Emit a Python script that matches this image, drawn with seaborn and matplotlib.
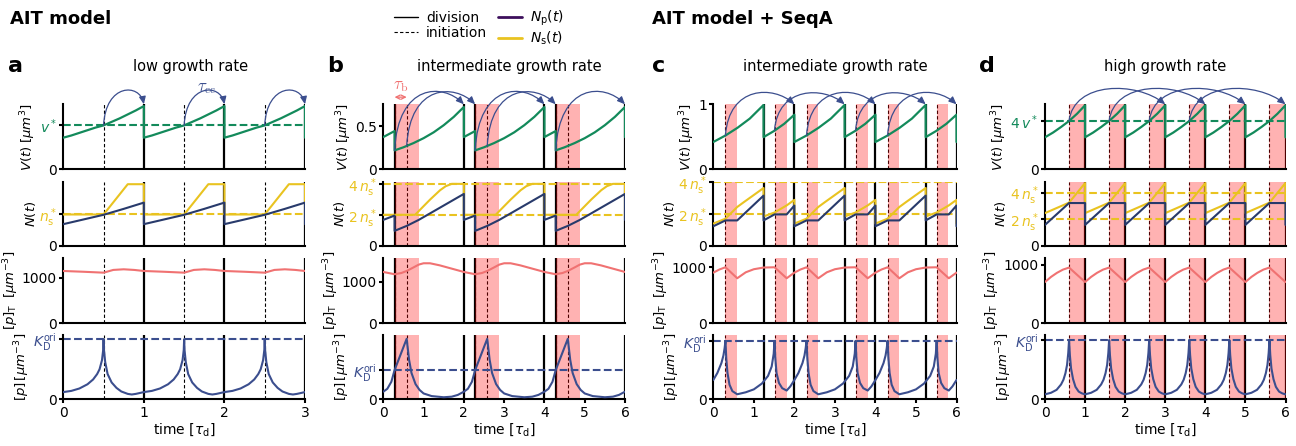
import numpy as np
import matplotlib
matplotlib.use("Agg")
import matplotlib.pyplot as plt
from matplotlib.lines import Line2D
from matplotlib.patches import FancyArrowPatch
from matplotlib.path import Path
import seaborn as sns

# ======================= DATA =======================
# ---- panel a : AIT model, low growth rate (period 1 tau_d, 3 periods) ----
a_period, a_reps = 1.0, 3
a_V_t = [0.0, 0.1, 0.2, 0.3, 0.4, 0.5, 0.6, 0.7, 0.8, 0.9, 1.0]
a_V = [0.72, 0.77, 0.83, 0.89, 0.95, 1.0, 1.08, 1.16, 1.25, 1.34, 1.44]
a_Ns_t = [0.0, 0.5, 0.8, 1.0]
a_Ns = [1.0, 1.0, 1.97, 1.97]
a_Np_t = [0.0, 0.25, 0.5, 0.75, 1.0]
a_Np = [0.69, 0.84, 0.99, 1.18, 1.38]
a_pT_t = [0.0, 0.25, 0.5, 0.62, 0.75, 0.88, 1.0]
a_pT = [1147, 1130, 1110, 1170, 1184, 1170, 1147]
a_p_t = [0, 0.1, 0.2, 0.3, 0.37, 0.42, 0.45, 0.48, 0.495, 0.5, 0.505, 0.52,
         0.55, 0.6, 0.66, 0.72, 0.8, 0.85, 0.9, 1.0]
a_p = [0.12, 0.14, 0.18, 0.25, 0.33, 0.42, 0.5, 0.65, 0.82, 1.0, 0.82, 0.62,
       0.42, 0.28, 0.19, 0.13, 0.09, 0.08, 0.09, 0.12]
a_div = [1.0, 2.0, 3.0]
a_init = [0.5, 1.5, 2.5]
a_band_start, a_band_end = [], []
a_arrow_from = [0.5, 1.5, 2.5]
a_arrow_to = [1.0, 2.0, 3.0]
a_arrow_v = [1.0, 1.0, 1.0]

# ---- panel b : AIT model, intermediate growth rate (period 2, 3 periods) ----
b_period, b_reps = 2.0, 3
b_V_t = [0.0, 0.28, 0.28, 0.5, 0.75, 1.0, 1.25, 1.5, 1.75, 2.0]
b_V = [0.375, 0.445, 0.22, 0.256, 0.305, 0.362, 0.43, 0.513, 0.61, 0.725]
b_Ns_t = [0.0, 0.79, 1.16, 1.41, 1.55, 1.7, 2.0]
b_Ns = [2.0, 2.0, 2.98, 3.59, 3.85, 4.0, 4.0]
b_Np_t = [0.0, 0.28, 0.28, 0.58, 0.88, 2.0]
b_Np = [1.67, 1.95, 0.96, 1.28, 1.67, 3.35]
b_pT_t = [0.0, 0.28, 0.45, 0.58, 0.75, 0.88, 1.0, 1.16, 1.4, 1.7, 2.0]
b_pT = [1240, 1185, 1215, 1264, 1350, 1418, 1450, 1450, 1400, 1320, 1240]
b_p_t = [0.0, 0.1, 0.2, 0.28, 0.58, 0.64, 0.7, 0.8, 0.9, 1.0, 1.2, 1.5, 1.7, 1.85, 2.0]
b_p = [0.26, 0.36, 0.6, 1.0, 2.07, 1.35, 0.9, 0.52, 0.32, 0.2, 0.11, 0.07, 0.09, 0.15, 0.26]
b_div = [0.28, 2.0, 2.28, 4.0, 4.28, 6.0]
b_init = [0.28, 0.58, 2.28, 2.58, 4.28, 4.58]
b_band_start = [0.28, 0.58, 2.28, 2.58, 4.28, 4.58]
b_band_end = [0.58, 0.88, 2.58, 2.88, 4.58, 4.88]
b_arrow_from = [0.28, 0.58, 2.28, 2.58, 4.28]
b_arrow_to = [2.0, 2.28, 4.0, 4.28, 6.0]
b_arrow_v = [0.22, 0.27, 0.22, 0.27, 0.22]

# ---- panel c : AIT + SeqA, intermediate growth rate (period 2, 3 periods) ----
c_period, c_reps = 2.0, 3
c_V_t = [0.0, 0.3, 0.6, 0.9, 1.24, 1.24, 1.5, 1.75, 2.0]
c_V = [0.42, 0.52, 0.64, 0.78, 0.99, 0.495, 0.59, 0.70, 0.84]
c_Ns_t = [0.0, 0.3, 0.59, 0.75, 1.24, 1.24, 1.51, 1.81, 2.0]
c_Ns = [1.4, 1.71, 2.45, 2.75, 3.65, 1.85, 2.1, 2.55, 2.9]
c_Np_t = [0.0, 0.3, 0.59, 1.24, 1.24, 1.51, 1.81, 2.0]
c_Np = [1.23, 1.6, 1.6, 3.17, 1.6, 1.98, 1.98, 2.54]
c_pT_t = [0.0, 0.15, 0.3, 0.59, 0.8, 1.0, 1.24, 1.51, 1.81, 2.0]
c_pT = [904, 960, 1000, 804, 910, 965, 995, 1000, 804, 904]
c_p_t = [0.0, 0.1, 0.2, 0.25, 0.28, 0.3, 0.32, 0.35, 0.4, 0.47, 0.59, 0.8, 1.0, 1.2,
         1.35, 1.44, 1.49, 1.51, 1.53, 1.56, 1.62, 1.7, 1.81, 1.9, 2.0]
c_p = [0.33, 0.45, 0.62, 0.75, 0.88, 1.0, 0.7, 0.45, 0.25, 0.14, 0.086, 0.12, 0.17, 0.27,
       0.4, 0.56, 0.78, 1.0, 0.7, 0.45, 0.28, 0.19, 0.15, 0.22, 0.33]
c_div = [1.24, 2.0, 3.24, 4.0, 5.24, 6.0]
c_init = [0.3, 1.51, 2.3, 3.51, 4.3, 5.51]
c_band_start = [0.3, 1.51, 2.3, 3.51, 4.3, 5.51]
c_band_end = [0.59, 1.81, 2.59, 3.81, 4.59, 5.8]
c_arrow_from = [0.3, 1.51, 2.3, 3.51, 4.3]
c_arrow_to = [2.0, 3.24, 4.0, 5.24, 6.0]
c_arrow_v = [0.52, 0.6, 0.52, 0.6, 0.52]

# ---- panel d : AIT + SeqA, high growth rate (period 1, 6 periods) ----
d_period, d_reps = 1.0, 6
d_V_t = [0.0, 0.2, 0.4, 0.6, 0.8, 1.0]
d_V = [2.65, 3.04, 3.5, 4.0, 4.6, 5.3]
d_Ns_t = [0.0, 0.6, 1.0]
d_Ns = [2.46, 3.25, 4.73]
d_Np_t = [0.0, 0.6, 1.0]
d_Np = [1.57, 3.22, 3.22]
d_pT_t = [0.0, 0.15, 0.3, 0.45, 0.6, 1.0]
d_pT = [703, 790, 860, 915, 949, 703]
d_p_t = [0.0, 0.15, 0.29, 0.4, 0.46, 0.51, 0.55, 0.58, 0.6, 0.62, 0.65, 0.7, 0.76, 0.84, 0.92, 1.0]
d_p = [0.084, 0.11, 0.16, 0.25, 0.33, 0.44, 0.58, 0.78, 1.0, 0.75, 0.52, 0.34, 0.21, 0.13, 0.1, 0.084]
d_div = [1.0, 2.0, 3.0, 4.0, 5.0, 6.0]
d_init = [0.6, 1.6, 2.6, 3.6, 4.6, 5.6]
d_band_start = [0.6, 1.6, 2.6, 3.6, 4.6, 5.6]
d_band_end = [1.0, 2.0, 3.0, 4.0, 5.0, 6.0]
d_arrow_from = [0.6, 1.6, 2.6, 3.6]
d_arrow_to = [3.0, 4.0, 5.0, 6.0]
d_arrow_v = [4.0, 4.0, 4.0, 4.0]

titles = ["low growth rate", "intermediate growth rate",
          "intermediate growth rate", "high growth rate"]
letters = ["a", "b", "c", "d"]
legend_labels = ["division", "initiation", r"$N_\mathrm{p}(t)$", r"$N_\mathrm{s}(t)$"]

# ======================= STYLE =======================
sns.set_style("ticks")
plt.rcParams.update({
    "font.family": ["DejaVu Sans"],
    "text.color": "black", "axes.labelcolor": "black",
    "xtick.color": "black", "ytick.color": "black",
    "axes.edgecolor": "black",
    "axes.linewidth": 1.5,
    "xtick.major.width": 1.5, "ytick.major.width": 1.5,
    "xtick.major.size": 3, "ytick.major.size": 3,
    "xtick.major.pad": 2, "ytick.major.pad": 1.5,
    "xtick.labelsize": 10, "ytick.labelsize": 10,
    "axes.labelsize": 10,
})

GREEN = "#138a5b"
YELLOW = "#e9c320"
NAVY = "#283a6b"
RED = "#f07272"
BLUE = "#3b4e8e"
PURPLE = "#3d0f5c"
SALMON = "#f07070"

W, H = 1296, 446
fig = plt.figure(figsize=(W / 100, H / 100), dpi=100)

col_px = [(63.3, 305.0), (383.3, 625.0), (713.3, 956.5), (1045.0, 1285.5)]
row_px = [(104.3, 169.3), (181.7, 245.7), (258.3, 323.3), (335.0, 399.3)]


def add_ax(c, r):
    l, rr = col_px[c]
    t, b = row_px[r]
    return fig.add_axes([l / W, 1 - b / H, (rr - l) / W, (b - t) / H])


def tile(t, y, period, reps):
    t = np.asarray(t, float)
    y = np.asarray(y, float)
    tt = np.concatenate([t + k * period for k in range(reps)] + [[reps * period]])
    yy = np.concatenate([y] * reps + [[y[0]]])
    return tt, yy


def arc_arrow(ax, x0, y0, x1, y1, peak_px, color, back=0.3):
    A = ax.transData.transform((x0, y0))
    B = ax.transData.transform((x1, y1))
    py = H - peak_px
    cy = (8 * py - A[1] - B[1]) / 6.0
    dx = B[0] - A[0]
    c1 = (A[0] + 0.05 * dx, cy)
    c2 = (B[0] - back * dx, cy)
    verts = fig.transFigure.inverted().transform([A, c1, c2, B])
    path = Path(verts, [Path.MOVETO, Path.CURVE4, Path.CURVE4, Path.CURVE4])
    arr = FancyArrowPatch(path=path, arrowstyle="-|>,head_length=0.45,head_width=0.2",
                          mutation_scale=10, color=color, lw=0.9,
                          transform=fig.transFigure)
    fig.add_artist(arr)


ns = r"n_\mathrm{s}^*"
panels = [
    dict(period=a_period, reps=a_reps,
         V=(a_V_t, a_V), Ns=(a_Ns_t, a_Ns), Np=(a_Np_t, a_Np), pT=(a_pT_t, a_pT), p=(a_p_t, a_p),
         div=a_div, init=a_init, bs=a_band_start, be=a_band_end,
         af=a_arrow_from, at=a_arrow_to, av=a_arrow_v, peak=91, back=0.1,
         Vlim=1.48, Vticks=[0, 1], Vlabels=["0", r"$v^*$"], Vh=[1.0],
         Nlim=2.05, Nticks=[0, 1], Nlabels=["0", rf"${ns}$"], Nh=[1.0],
         pTlim=1425, plim=1.07),
    dict(period=b_period, reps=b_reps,
         V=(b_V_t, b_V), Ns=(b_Ns_t, b_Ns), Np=(b_Np_t, b_Np), pT=(b_pT_t, b_pT), p=(b_p_t, b_p),
         div=b_div, init=b_init, bs=b_band_start, be=b_band_end,
         af=b_arrow_from, at=b_arrow_to, av=b_arrow_v, peak=94, back=0.3,
         Vlim=0.756, Vticks=[0, 0.5], Vlabels=["0", "0.5"], Vh=[],
         Nlim=4.14, Nticks=[0, 2, 4], Nlabels=["0", rf"$2\,{ns}$", rf"$4\,{ns}$"], Nh=[2, 4],
         pTlim=1570, plim=2.2),
    dict(period=c_period, reps=c_reps,
         V=(c_V_t, c_V), Ns=(c_Ns_t, c_Ns), Np=(c_Np_t, c_Np), pT=(c_pT_t, c_pT), p=(c_p_t, c_p),
         div=c_div, init=c_init, bs=c_band_start, be=c_band_end,
         af=c_arrow_from, at=c_arrow_to, av=c_arrow_v, peak=94, back=0.3,
         Vlim=1.0, Vticks=[0, 1], Vlabels=["0", "1"], Vh=[],
         Nlim=4.05, Nticks=[0, 2, 4], Nlabels=["0", rf"$2\,{ns}$", rf"$4\,{ns}$"], Nh=[2, 4],
         pTlim=1160, plim=1.10),
    dict(period=d_period, reps=d_reps,
         V=(d_V_t, d_V), Ns=(d_Ns_t, d_Ns), Np=(d_Np_t, d_Np), pT=(d_pT_t, d_pT), p=(d_p_t, d_p),
         div=d_div, init=d_init, bs=d_band_start, be=d_band_end,
         af=d_arrow_from, at=d_arrow_to, av=d_arrow_v, peak=89, back=0.3,
         Vlim=5.38, Vticks=[0, 4], Vlabels=["0", r"$4\,v^*$"], Vh=[4.0],
         Nlim=4.83, Nticks=[0, 2, 4], Nlabels=["0", rf"$2\,{ns}$", rf"$4\,{ns}$"], Nh=[2, 4],
         pTlim=1107, plim=1.085),
]

title_x = [0.525, 0.523, 0.5, 0.5]
letter_x = [8, 327, 652, 979]
ylabels = [r"$V(t)\;[\mu m^3]$", r"$N(t)$", r"$[p]_\mathrm{T}\;\;[\mu m^{-3}]$", r"$[p]\,[\mu m^{-3}]$"]

for c, P in enumerate(panels):
    T = P["period"] * P["reps"]
    axes = [add_ax(c, r) for r in range(4)]
    for r, ax in enumerate(axes):
        for x in P["init"]:
            ax.axvline(x, color="k", lw=0.8, ls=(0, (3, 2)), zorder=1)
        for x in P["div"]:
            ax.axvline(x, color="k", lw=1.6, zorder=1)
        for s, e in zip(P["bs"], P["be"]):
            ax.axvspan(s, e, color="red", alpha=0.3, lw=0, zorder=1.5)
        ax.set_xlim(0, T)
        sns.despine(ax=ax)
        if r < 3:
            ax.tick_params(axis="x", bottom=False, labelbottom=False)
        else:
            ax.set_xticks(range(int(T) + 1))
            ax.set_xlabel(r"time [$\tau_\mathrm{d}$]", labelpad=1)
        ax.set_ylabel(ylabels[r], labelpad=1, fontsize=9.5)

    # V row
    ax = axes[0]
    for h in P["Vh"]:
        ax.axhline(h, color=GREEN, lw=1.5, ls="--", zorder=2)
    tt, yy = tile(*P["V"], P["period"], P["reps"])
    sns.lineplot(x=tt, y=yy, ax=ax, color=GREEN, lw=1.6, sort=False, estimator=None, zorder=3)
    ax.set_ylim(0, P["Vlim"])
    ax.set_yticks(P["Vticks"])
    ax.set_yticklabels(P["Vlabels"])
    for lab in ax.get_yticklabels()[1:]:
        if "v" in lab.get_text():
            lab.set_color(GREEN)
    ax.text(title_x[c], 1.574, titles[c], transform=ax.transAxes,
            ha="center", va="center", fontsize=10.5)

    # N row
    ax = axes[1]
    for h in P["Nh"]:
        ax.axhline(h, color=YELLOW, lw=1.5, ls="--", zorder=2)
    tt, yy = tile(*P["Ns"], P["period"], P["reps"])
    sns.lineplot(x=tt, y=yy, ax=ax, color=YELLOW, lw=1.5, sort=False, estimator=None, zorder=3)
    tt, yy = tile(*P["Np"], P["period"], P["reps"])
    sns.lineplot(x=tt, y=yy, ax=ax, color=NAVY, lw=1.5, sort=False, estimator=None, zorder=4)
    ax.set_ylim(0, P["Nlim"])
    ax.set_yticks(P["Nticks"])
    ax.set_yticklabels(P["Nlabels"])
    for lab in ax.get_yticklabels()[1:]:
        lab.set_color(YELLOW)

    # pT row
    ax = axes[2]
    tt, yy = tile(*P["pT"], P["period"], P["reps"])
    sns.lineplot(x=tt, y=yy, ax=ax, color=RED, lw=1.5, sort=False, estimator=None, zorder=3)
    ax.set_ylim(0, P["pTlim"])
    ax.set_yticks([0, 1000])
    ax.set_yticklabels(["0", "1000"])

    # p row
    ax = axes[3]
    ax.axhline(1.0, color=BLUE, lw=1.5, ls="--", zorder=2)
    tt, yy = tile(*P["p"], P["period"], P["reps"])
    sns.lineplot(x=tt, y=yy, ax=ax, color=BLUE, lw=1.5, sort=False, estimator=None, zorder=3)
    ax.set_ylim(0, P["plim"])
    ax.set_yticks([0, 1])
    ax.set_yticklabels(["0", r"$K_\mathrm{D}^\mathrm{ori}$"])
    ax.get_yticklabels()[1].set_color(BLUE)

    fig.align_ylabels(axes)
    fig.text(letter_x[c] / W, 1 - 72 / H, letters[c], fontsize=16,
             fontweight="bold", va="baseline", ha="left")

    # initiation -> division arrows
    for f, t_, v in zip(P["af"], P["at"], P["av"]):
        arc_arrow(axes[0], f, v, t_, P["Vlim"], P["peak"], BLUE, back=P["back"])

    if c == 0:
        axes[0].text(0.594, 1.27, r"$\tau_\mathrm{cc}$", transform=axes[0].transAxes,
                     ha="center", va="center", fontsize=12, color=BLUE, math_fontfamily="cm")
    if c == 1:
        axb = axes[0]
        axb.annotate("", xy=(P["bs"][0], 1.11), xytext=(P["be"][0], 1.11),
                     xycoords=("data", "axes fraction"), annotation_clip=False,
                     arrowprops=dict(arrowstyle="<->,head_length=0.3,head_width=0.15",
                                     color=SALMON, lw=0.9, shrinkA=0, shrinkB=0,
                                     mutation_scale=10))
        axb.text(0.43 / 6, 1.30, r"$\tau_\mathrm{b}$", transform=axb.transAxes,
                 ha="center", va="center", fontsize=12, color=SALMON, math_fontfamily="cm")

# headers
fig.text(10 / W, 1 - 24 / H, "AIT model", fontsize=13, fontweight="bold", va="baseline")
fig.text(652 / W, 1 - 24 / H, "AIT model + SeqA", fontsize=13, fontweight="bold", va="baseline")

# legend
handles = [Line2D([], [], color="k", lw=1.0),
           Line2D([], [], color="k", lw=0.8, ls=(0, (3, 2))),
           Line2D([], [], color=PURPLE, lw=2),
           Line2D([], [], color=YELLOW, lw=2)]
fig.legend(handles, legend_labels, ncol=2, loc="upper left",
           bbox_to_anchor=(394 / W, 1 - 9 / H), frameon=False, fontsize=10,
           handlelength=1.7, handletextpad=0.6, columnspacing=0.8,
           labelspacing=0.1, borderaxespad=0, borderpad=0)

fig.savefig("out.png", dpi=100)
